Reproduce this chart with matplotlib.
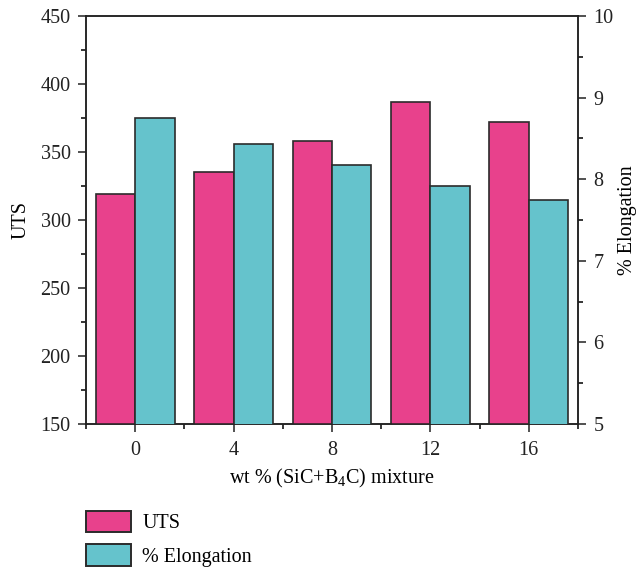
import matplotlib
matplotlib.use('Agg')
import matplotlib.pyplot as plt
import matplotlib.patches as patches
import numpy as np
from matplotlib.ticker import MultipleLocator, FixedLocator

plt.rcParams['font.family'] = ['Liberation Serif', 'DejaVu Serif']
plt.rcParams['mathtext.fontset'] = 'custom'
plt.rcParams['mathtext.rm'] = 'Liberation Serif'
plt.rcParams['mathtext.it'] = 'Liberation Serif:italic'

# data
wt_pct = [0, 4, 8, 12, 16]
uts = [319, 335, 358, 387, 372]
elongation = [8.75, 8.43, 8.17, 7.92, 7.75]

pink = '#E8418C'
teal = '#65C3CC'
edge = '#2b2b2b'
fs = 14.5

fig = plt.figure(figsize=(6.38, 5.73), dpi=100)
ax = fig.add_axes([86/638, 1-424/573, (578-86)/638, (424-16)/573])
ax2 = ax.twinx()

bw = 1.6
x = np.array(wt_pct, dtype=float)
ax.bar(x - bw/2, uts, width=bw, color=pink, edgecolor=edge, linewidth=1.2, zorder=3)
ax2.bar(x + bw/2, elongation, width=bw, color=teal, edgecolor=edge, linewidth=1.2, zorder=3)

ax.set_xlim(-2, 18)
ax.set_ylim(150, 450)
ax2.set_ylim(5, 10)

ax.set_xticks(wt_pct)
ax.xaxis.set_minor_locator(FixedLocator([-2, 2, 6, 10, 14, 18]))
ax.yaxis.set_major_locator(MultipleLocator(50))
ax.yaxis.set_minor_locator(MultipleLocator(25))
ax2.yaxis.set_major_locator(MultipleLocator(1))
ax2.yaxis.set_minor_locator(MultipleLocator(0.5))

for a in (ax, ax2):
    a.tick_params(which='major', direction='out', length=6, width=1.1, labelsize=fs,
                  colors='#222222', pad=5)
    a.tick_params(which='minor', direction='out', length=3.5, width=1.1)
    for s in a.spines.values():
        s.set_linewidth(1.1)
        s.set_color('#222222')
ax.tick_params(axis='x', which='major', pad=6)

ax.set_ylabel('UTS', fontsize=fs, labelpad=7)
ax2.set_ylabel('% Elongation', fontsize=fs, labelpad=3)
ax.set_xlabel('wt % (SiC+B$_4$C) mixture', fontsize=fs, labelpad=5)

h1 = patches.Patch(facecolor=pink, edgecolor=edge, linewidth=1.4)
h2 = patches.Patch(facecolor=teal, edgecolor=edge, linewidth=1.4)
fig.legend([h1, h2], ['UTS', '% Elongation'], loc='upper left',
           bbox_to_anchor=(86/638, 1-511/573), frameon=False, fontsize=fs,
           handlelength=2.25, handleheight=1.25, handletextpad=0.55,
           labelspacing=0.55, borderpad=0, borderaxespad=0)

fig.savefig('out.png', dpi=100)
